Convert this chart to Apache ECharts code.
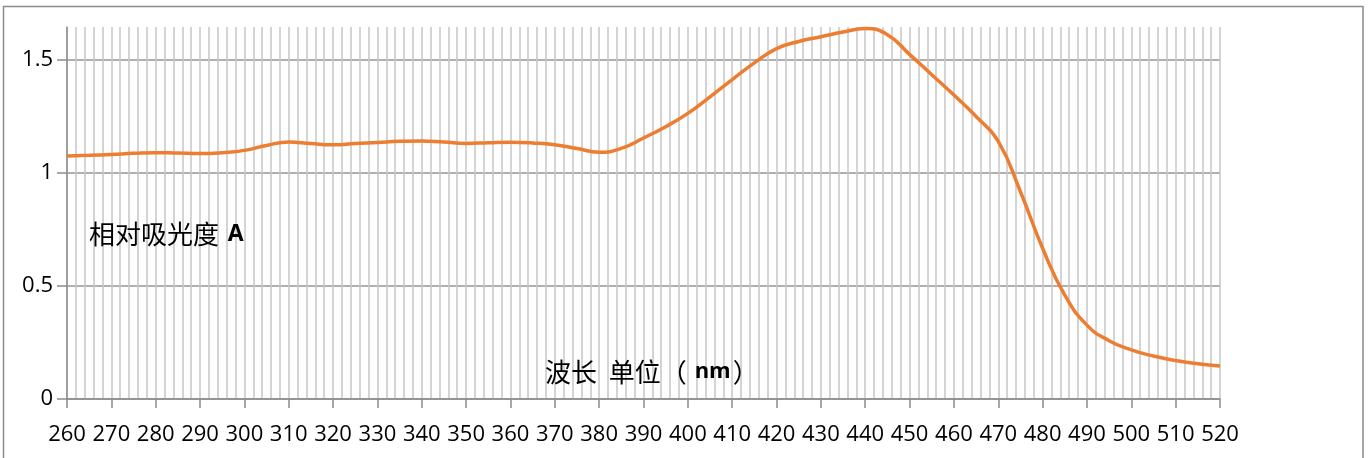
<!DOCTYPE html>
<html>
<head>
<meta charset="utf-8">
<script src="https://cdn.jsdelivr.net/npm/echarts@6/dist/echarts.min.js"></script>
<style>
html,body{margin:0;padding:0;background:#fff;}
#c{width:1371px;height:458px;}
</style>
</head>
<body>
<div id="c"></div>
<script>
const wavelengths = [260,265,270,275,280,285,290,295,300,305,310,315,320,325,330,335,340,345,350,355,360,365,370,375,380,385,390,395,400,405,410,415,420,425,430,435,440,445,450,455,460,465,470,475,480,485,490,495,500,505,510,515,520];
const absorbance = [1.075,1.078,1.082,1.087,1.090,1.088,1.086,1.090,1.100,1.122,1.137,1.130,1.125,1.130,1.135,1.140,1.142,1.137,1.131,1.134,1.136,1.133,1.125,1.108,1.092,1.109,1.155,1.205,1.264,1.337,1.413,1.487,1.550,1.582,1.603,1.624,1.639,1.612,1.525,1.435,1.345,1.250,1.140,0.917,0.667,0.460,0.327,0.258,0.217,0.190,0.170,0.156,0.146];
const yTicks = [0, 0.5, 1, 1.5];
const yLabels = ['0', '0.5', '1', '1.5'];
const xMin = 260, xMax = 520, xStep = 10, yMax = 1.646;
const yTitle = '相对吸光度 ';
const yTitleBold = 'A';
const xTitle = '波长  单位（';
const xTitleBold = 'nm';
const xTitleEnd = '）';

const chart = echarts.init(document.getElementById('c'), null, {renderer: 'canvas'});
const seriesData = wavelengths.map((w, i) => [w, absorbance[i]]);
const labelFont = '"Open Sans", "Liberation Sans", sans-serif';
const cjkFont = '"Noto Sans CJK SC", sans-serif';

chart.setOption({
  animation: false,
  backgroundColor: '#fff',
  grid: {left: 67, right: 151, top: 27, bottom: 59},
  xAxis: {
    type: 'value',
    min: xMin, max: xMax, interval: xStep,
    axisLine: {show: true, lineStyle: {color: '#8c8c8c', width: 1.5}},
    axisTick: {show: true, inside: false, length: 9, lineStyle: {color: '#8c8c8c', width: 1.5}},
    axisLabel: {fontFamily: labelFont, fontSize: 22, color: '#000', margin: 25},
    splitLine: {show: true, lineStyle: {color: '#c6c6c6', width: 1.5}},
    minorTick: {show: false, splitNumber: 5},
    minorSplitLine: {show: true, lineStyle: {color: '#c6c6c6', width: 1.5}}
  },
  yAxis: {
    type: 'value',
    min: 0, max: yMax, interval: 0.5,
    axisLine: {show: true, lineStyle: {color: '#8c8c8c', width: 1.5}},
    axisTick: {show: true, length: 10, lineStyle: {color: '#8c8c8c', width: 1.5}, customValues: yTicks},
    axisLabel: {
      fontFamily: labelFont, fontSize: 22, color: '#000', margin: 14,
      customValues: yTicks,
      formatter: function (v) {
        const i = yTicks.findIndex(t => Math.abs(t - v) < 1e-9);
        return i >= 0 ? yLabels[i] : '';
      }
    },
    splitLine: {show: true, lineStyle: {color: ['#959595','#959595','#959595','#959595','rgba(0,0,0,0)'], width: 1.5}}
  },
  series: [{
    type: 'line',
    data: seriesData,
    smooth: 0.5,
    showSymbol: false,
    symbol: 'none',
    lineStyle: {color: '#ED7D31', width: 3.5},
    z: 5
  }],
  graphic: [
    {
      type: 'rect', silent: true, z: 0,
      shape: {x: 3.5, y: 6.5, width: 1359.5, height: 470},
      style: {fill: 'none', stroke: '#8c8c8c', lineWidth: 1.5}
    },
    {
      type: 'text', x: 89, y: 234, z: 10,
      style: {
        text: '{a|' + yTitle + '}{b|' + yTitleBold + '}',
        verticalAlign: 'middle',
        rich: {
          a: {fontFamily: cjkFont, fontSize: 26, fill: '#000'},
          b: {fontFamily: labelFont, fontSize: 23, fontWeight: 'bold', fill: '#000', padding: [0, 0, 0, 3]}
        }
      }
    },
    {
      type: 'text', x: 545, y: 372, z: 10,
      style: {
        text: '{a|' + xTitle + '}{b|' + xTitleBold + '}{a|' + xTitleEnd + '}',
        verticalAlign: 'middle',
        rich: {
          a: {fontFamily: cjkFont, fontSize: 26, fill: '#000'},
          b: {fontFamily: labelFont, fontSize: 22, fontWeight: 'bold', fill: '#000', padding: [0, 2, 0, 8]}
        }
      }
    }
  ]
});
</script>
</body>
</html>
